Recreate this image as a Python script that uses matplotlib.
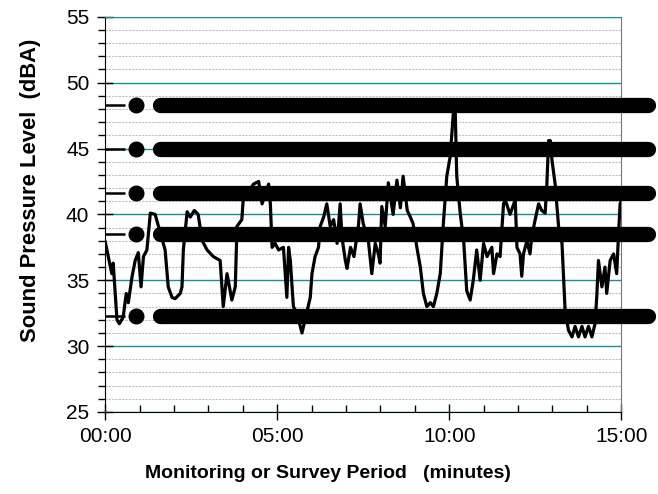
import matplotlib
matplotlib.use('Agg')
import matplotlib.pyplot as plt
from matplotlib.ticker import MultipleLocator, FuncFormatter

plt.rcParams['font.family'] = ['Liberation Sans', 'DejaVu Sans']

# time (minutes) and sound level (dBA) of the logged trace
minutes = [0.00, 0.19, 0.23, 0.34, 0.41, 0.52, 0.61, 0.67, 0.78, 0.87, 0.96, 1.04, 1.11, 1.21,
           1.31, 1.45, 1.60, 1.74, 1.83, 1.94, 2.03, 2.18, 2.23, 2.27, 2.38, 2.47, 2.59, 2.70,
           2.82, 2.96, 3.14, 3.34, 3.43, 3.54, 3.68, 3.78, 3.83, 3.97, 4.01, 4.31, 4.46, 4.56,
           4.75, 4.80, 4.85, 4.94, 5.04, 5.18, 5.28, 5.33, 5.38, 5.47, 5.57, 5.72, 5.81, 5.96,
           6.01, 6.10, 6.20, 6.25, 6.35, 6.44, 6.54, 6.64, 6.74, 6.83, 6.88, 6.98, 7.03, 7.13,
           7.23, 7.36, 7.41, 7.50, 7.65, 7.75, 7.85, 7.94, 7.99, 8.04, 8.14, 8.23, 8.37, 8.48,
           8.58, 8.66, 8.78, 8.87, 8.95, 9.06, 9.16, 9.25, 9.35, 9.45, 9.54, 9.64, 9.74, 9.83,
           9.93, 10.03, 10.12, 10.17, 10.22, 10.32, 10.42, 10.51, 10.61, 10.70, 10.80, 10.90,
           11.00, 11.10, 11.24, 11.29, 11.39, 11.48, 11.58, 11.63, 11.77, 11.92, 11.97, 12.06,
           12.11, 12.16, 12.26, 12.35, 12.40, 12.50, 12.60, 12.69, 12.79, 12.84, 12.89, 12.94,
           12.99, 13.08, 13.18, 13.28, 13.37, 13.47, 13.57, 13.66, 13.76, 13.86, 13.95, 14.05,
           14.15, 14.24, 14.29, 14.34, 14.44, 14.53, 14.58, 14.68, 14.78, 14.87, 14.92, 14.97,
           15.00]
level = [37.9, 35.5, 36.3, 32.0, 31.7, 32.2, 34.0, 33.3, 35.3, 36.5, 37.1, 34.5, 36.8, 37.3,
         40.1, 40.0, 38.6, 37.3, 34.5, 33.7, 33.6, 34.0, 34.5, 37.3, 40.2, 39.8, 40.3, 40.0,
         38.0, 37.3, 36.8, 36.5, 33.0, 35.5, 33.5, 34.5, 39.1, 39.6, 41.1, 42.3, 42.5, 40.8,
         42.3, 40.8, 37.5, 37.8, 37.3, 37.5, 33.7, 37.5, 36.5, 33.0, 32.5, 31.0, 32.0, 33.7,
         35.5, 36.8, 37.5, 39.1, 39.8, 40.8, 39.1, 39.6, 37.8, 40.8, 38.3, 36.5, 35.9, 37.5,
         36.8, 39.1, 40.8, 39.3, 38.0, 35.5, 37.8, 37.0, 36.3, 40.6, 39.1, 42.4, 40.0, 42.6,
         40.5, 42.9, 40.3, 39.8, 39.3, 37.5, 36.0, 34.0, 33.0, 33.3, 33.0, 34.0, 35.5, 39.3,
         42.9, 44.4, 47.7, 48.5, 42.9, 40.1, 38.0, 34.2, 33.5, 35.0, 37.3, 35.0,
         37.8, 36.8, 37.5, 35.5, 37.0, 36.8, 40.8, 41.1, 40.0, 41.1, 37.5, 37.0,
         35.3, 37.0, 38.0, 37.0, 38.3, 39.6, 40.8, 40.3, 40.1, 42.3, 45.6, 45.6,
         44.1, 42.3, 39.1, 37.8, 32.7, 31.2, 30.7, 31.5, 30.7, 31.5, 30.7, 31.5,
         30.7, 31.7, 33.7, 36.5, 34.5, 36.0, 34.0, 36.5, 37.0, 35.5, 38.3, 40.8,
         41.0]

# statistical levels drawn as thick bands (dBA)
band_levels = [48.3, 45.0, 41.6, 38.5, 32.3]

fig = plt.figure(figsize=(6.58, 4.94), dpi=100)
ax = fig.add_axes([0.160, 0.166, 0.784, 0.800])

ax.plot(minutes, level, color='black', lw=2.3, zorder=3)

for lv in band_levels:
    ax.plot([0, 0.58], [lv, lv], color='black', lw=1.8, solid_capstyle='butt', zorder=4)
    ax.plot([0.89], [lv], marker='o', ms=10.5, color='black', mec='black', zorder=4, clip_on=False)
    ax.plot([1.58, 15.77], [lv, lv], color='black', lw=11, solid_capstyle='round',
            zorder=4, clip_on=False)

ax.set_xlim(0, 15)
ax.set_ylim(25, 55)
ax.xaxis.set_major_locator(MultipleLocator(5))
ax.xaxis.set_minor_locator(MultipleLocator(1))
ax.yaxis.set_major_locator(MultipleLocator(5))
ax.yaxis.set_minor_locator(MultipleLocator(1))
ax.xaxis.set_major_formatter(FuncFormatter(lambda v, p: '%02d:00' % int(round(v))))

ax.grid(which='major', axis='y', color='#1a8f8f', lw=1.0)
ax.grid(which='minor', axis='y', color='#c0c0c0', lw=0.8, ls=(0, (2, 1)))
ax.set_axisbelow(True)

ax.tick_params(axis='x', which='major', direction='inout', length=12, width=1,
               labelsize=15, pad=5)
ax.tick_params(axis='x', which='minor', direction='in', length=5, width=1)
ax.tick_params(axis='y', which='major', direction='inout', length=11, width=1,
               labelsize=15, pad=6)
ax.tick_params(axis='y', which='minor', direction='out', length=5, width=1)

ax.spines['top'].set_color('#1a8f8f')
ax.spines['right'].set_color('#777777')

ax.set_ylabel('Sound Pressure Level  (dBA)', fontsize=15.8, fontweight='bold')
ax.set_xlabel('Monitoring or Survey Period   (minutes)', fontsize=14, fontweight='bold')
ax.yaxis.set_label_coords(-0.124, 0.56)
ax.xaxis.set_label_coords(0.432, -0.135)

fig.savefig('out.png', dpi=100)
